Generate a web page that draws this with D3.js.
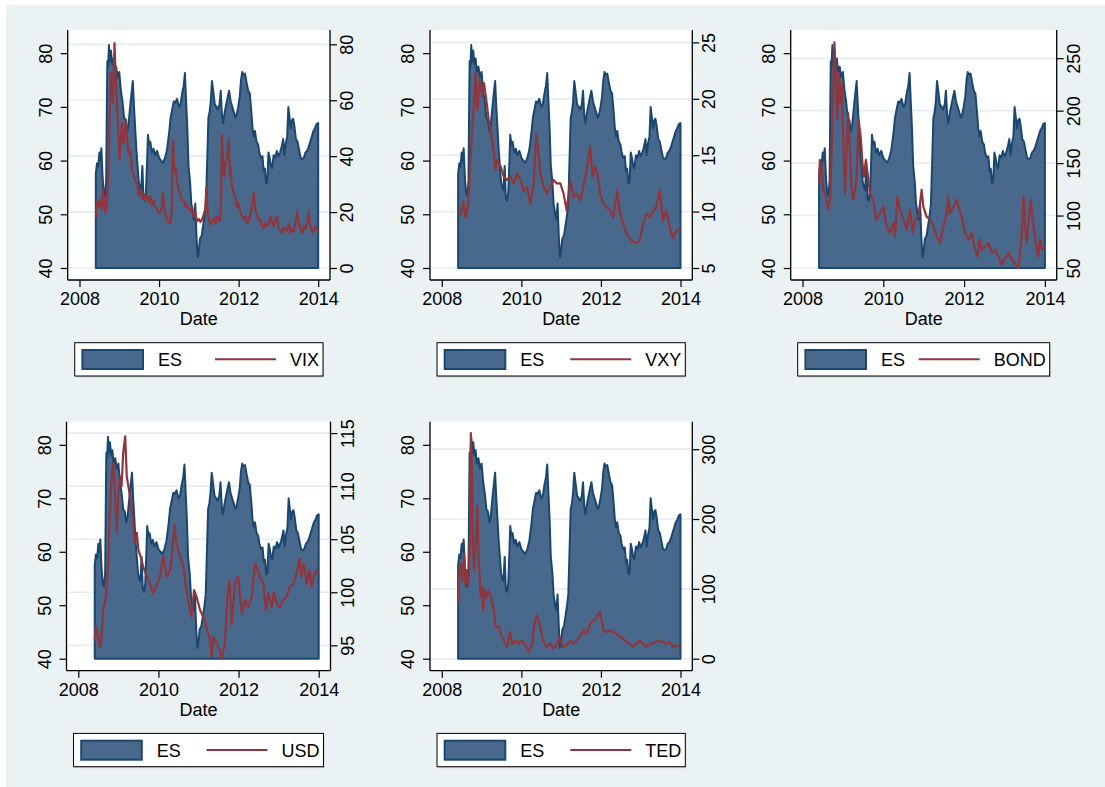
<!DOCTYPE html>
<html>
<head>
<meta charset="utf-8">
<script src="https://cdn.jsdelivr.net/npm/d3@7"></script>
<style>
  body { margin: 0; background: #fff; }
  svg text { font-family: "Liberation Sans", Arial, sans-serif; fill: #000; }
</style>
</head>
<body>
<script>
// ---- data: [decimal year, value] ----
const es = [
  [2008.41,57.5],[2008.44,59.5],[2008.47,58.8],[2008.50,61.5],[2008.52,60.0],[2008.55,62.3],[2008.58,57.0],[2008.61,54.0],
  [2008.64,53.5],[2008.67,56.0],[2008.69,72.0],[2008.70,78.5],[2008.72,77.5],[2008.74,81.5],[2008.76,78.5],[2008.79,80.5],
  [2008.82,78.0],[2008.85,79.0],[2008.88,76.5],[2008.92,77.5],[2008.96,75.5],[2009.00,76.5],[2009.04,73.0],[2009.08,71.0],
  [2009.12,68.0],[2009.16,67.5],[2009.20,65.5],[2009.23,66.5],[2009.26,69.0],[2009.30,72.0],[2009.34,74.8],[2009.37,70.0],
  [2009.40,66.0],[2009.43,62.0],[2009.46,59.0],[2009.49,56.0],[2009.52,55.0],[2009.55,54.5],[2009.58,59.0],[2009.61,53.0],
  [2009.64,52.5],[2009.67,54.0],[2009.70,60.0],[2009.72,64.8],[2009.75,63.0],[2009.78,63.5],[2009.82,61.5],[2009.86,62.2],
  [2009.90,61.0],[2009.95,61.8],[2010.00,60.5],[2010.05,60.0],[2010.10,59.6],[2010.15,60.5],[2010.20,62.0],[2010.25,65.0],
  [2010.29,68.0],[2010.33,69.5],[2010.37,71.0],[2010.41,70.8],[2010.45,71.5],[2010.50,70.0],[2010.54,70.5],[2010.58,72.5],
  [2010.62,74.0],[2010.65,76.3],[2010.68,71.0],[2010.71,66.0],[2010.74,59.0],[2010.78,56.0],[2010.81,52.0],[2010.85,50.0],
  [2010.88,49.0],[2010.91,52.0],[2010.94,46.0],[2010.97,42.0],[2010.99,42.5],[2011.03,45.5],[2011.07,46.0],[2011.11,48.0],
  [2011.15,50.0],[2011.18,52.0],[2011.21,60.0],[2011.24,68.0],[2011.27,69.0],[2011.30,71.0],[2011.33,74.8],[2011.36,73.0],
  [2011.40,70.5],[2011.44,70.0],[2011.48,69.5],[2011.52,70.5],[2011.55,73.0],[2011.58,68.5],[2011.61,67.0],[2011.65,69.0],
  [2011.69,70.5],[2011.73,72.0],[2011.76,73.0],[2011.80,71.0],[2011.84,70.0],[2011.88,69.0],[2011.92,68.0],[2011.95,68.5],
  [2011.99,70.0],[2012.03,72.0],[2012.06,75.0],[2012.09,76.5],[2012.12,76.0],[2012.16,76.2],[2012.20,74.5],[2012.24,73.0],
  [2012.28,72.5],[2012.32,69.0],[2012.35,66.0],[2012.38,64.5],[2012.41,65.5],[2012.45,63.5],[2012.49,63.0],[2012.52,61.5],
  [2012.56,60.5],[2012.60,60.8],[2012.63,58.0],[2012.66,58.5],[2012.69,55.8],[2012.72,56.0],[2012.75,61.5],[2012.78,60.5],
  [2012.81,59.0],[2012.84,58.6],[2012.88,61.0],[2012.92,60.5],[2012.96,61.8],[2013.00,60.8],[2013.04,61.5],[2013.08,62.5],
  [2013.12,64.0],[2013.15,61.0],[2013.18,63.0],[2013.22,64.5],[2013.25,70.0],[2013.28,68.0],[2013.31,66.0],[2013.34,67.5],
  [2013.37,67.8],[2013.40,66.5],[2013.44,64.0],[2013.48,63.5],[2013.52,62.0],[2013.56,60.5],[2013.60,60.3],[2013.64,60.5],
  [2013.68,61.5],[2013.72,61.8],[2013.76,62.5],[2013.80,63.5],[2013.84,64.5],[2013.88,65.5],[2013.92,66.0],[2013.96,66.8],
  [2014.00,67.0]
];

const vix = [
  [2008.41,17.9],[2008.44,23.8],[2008.48,22.0],[2008.52,24.4],[2008.56,21.0],[2008.59,28.0],[2008.62,23.0],[2008.65,19.6],
  [2008.68,22.0],[2008.70,26.8],[2008.73,38.0],[2008.755,53.0],[2008.79,70.0],[2008.81,62.0],[2008.84,59.0],[2008.86,68.0],
  [2008.88,80.4],[2008.90,72.0],[2008.92,65.0],[2008.96,54.0],[2009.01,38.7],[2009.04,45.0],[2009.07,51.8],[2009.11,44.6],
  [2009.14,48.0],[2009.17,53.0],[2009.20,46.0],[2009.23,41.0],[2009.28,42.0],[2009.32,35.0],[2009.36,33.0],[2009.40,31.5],
  [2009.45,30.0],[2009.49,26.0],[2009.53,28.0],[2009.57,25.0],[2009.61,26.5],[2009.65,24.4],[2009.70,26.0],[2009.74,23.5],
  [2009.78,25.6],[2009.82,22.5],[2009.86,24.0],[2009.90,22.0],[2009.95,21.0],[2010.00,19.6],[2010.03,19.6],[2010.07,22.0],
  [2010.10,26.8],[2010.14,20.0],[2010.20,17.3],[2010.24,16.5],[2010.28,16.1],[2010.32,21.0],[2010.34,38.7],[2010.35,45.5],
  [2010.38,34.0],[2010.41,36.0],[2010.45,31.5],[2010.49,28.0],[2010.53,26.8],[2010.57,24.0],[2010.62,24.4],[2010.66,22.0],
  [2010.70,22.6],[2010.74,21.0],[2010.79,20.8],[2010.83,22.0],[2010.87,18.5],[2010.91,20.0],[2010.95,16.7],[2011.00,17.5],
  [2011.04,16.5],[2011.08,17.3],[2011.12,19.0],[2011.16,21.0],[2011.19,29.0],[2011.22,20.0],[2011.26,17.0],[2011.29,15.5],
  [2011.34,16.5],[2011.38,18.0],[2011.42,16.0],[2011.46,18.5],[2011.50,17.5],[2011.54,17.0],[2011.56,25.0],[2011.58,47.6],
  [2011.61,37.0],[2011.64,32.7],[2011.67,38.0],[2011.71,39.9],[2011.75,45.8],[2011.78,33.0],[2011.80,36.0],[2011.83,29.2],
  [2011.87,27.0],[2011.92,25.0],[2011.96,22.0],[2012.00,23.0],[2012.04,20.0],[2012.09,18.5],[2012.14,17.5],[2012.18,18.5],
  [2012.21,16.0],[2012.26,17.0],[2012.30,19.5],[2012.34,22.0],[2012.38,26.8],[2012.42,21.0],[2012.46,19.0],[2012.50,17.3],
  [2012.54,17.5],[2012.58,15.5],[2012.63,14.3],[2012.67,16.0],[2012.71,15.0],[2012.76,16.0],[2012.80,18.5],[2012.84,16.5],
  [2012.88,15.0],[2012.92,17.0],[2012.97,18.5],[2013.01,14.0],[2013.05,13.5],[2013.09,12.5],[2013.14,14.5],[2013.18,13.5],
  [2013.22,13.7],[2013.26,16.0],[2013.30,12.5],[2013.35,14.0],[2013.39,13.0],[2013.43,16.5],[2013.47,20.2],[2013.51,16.0],
  [2013.56,14.0],[2013.60,12.5],[2013.64,15.0],[2013.68,14.0],[2013.72,16.0],[2013.76,20.2],[2013.80,15.0],[2013.85,12.5],
  [2013.89,14.0],[2013.93,15.0],[2013.97,13.5],[2014.00,13.1]
];

const vxy = [
  [2008.41,10.1],[2008.48,9.8],[2008.54,10.9],[2008.60,9.5],[2008.66,10.6],[2008.73,15.2],[2008.81,19.6],[2008.85,22.3],
  [2008.89,19.0],[2008.96,21.7],[2009.02,20.2],[2009.06,21.4],[2009.13,19.6],[2009.18,18.1],[2009.24,16.9],[2009.31,15.2],
  [2009.35,13.7],[2009.39,14.6],[2009.48,14.0],[2009.56,13.1],[2009.64,12.8],[2009.73,13.1],[2009.81,12.5],[2009.89,13.4],
  [2009.98,12.8],[2010.06,11.8],[2010.14,12.2],[2010.23,10.7],[2010.31,12.5],[2010.36,15.8],[2010.38,16.9],[2010.48,13.4],
  [2010.56,12.2],[2010.64,11.6],[2010.73,12.2],[2010.81,12.8],[2010.89,12.5],[2010.98,12.5],[2011.06,11.6],[2011.14,10.1],
  [2011.23,12.8],[2011.31,11.3],[2011.39,11.6],[2011.48,11.0],[2011.56,12.2],[2011.64,13.7],[2011.73,15.8],[2011.79,13.1],
  [2011.85,14.0],[2011.91,13.4],[2011.98,11.6],[2012.06,10.7],[2012.14,10.4],[2012.23,10.1],[2012.31,9.5],[2012.41,11.9],
  [2012.48,9.8],[2012.56,8.9],[2012.64,8.1],[2012.73,7.6],[2012.81,7.3],[2012.89,7.2],[2012.98,7.5],[2013.06,8.9],
  [2013.14,9.8],[2013.23,9.5],[2013.31,10.0],[2013.39,10.4],[2013.48,11.9],[2013.56,9.2],[2013.64,10.1],[2013.73,8.6],
  [2013.81,7.6],[2013.89,8.3],[2014.00,8.5]
];

const bond = [
  [2008.41,131],[2008.43,153],[2008.47,147],[2008.51,124.6],[2008.58,118],[2008.64,105.6],[2008.68,115],[2008.72,159.5],
  [2008.76,223],[2008.79,265],[2008.83,229],[2008.86,191],[2008.90,235.7],[2008.94,207],[2008.97,226],[2009.01,175],
  [2009.05,121],[2009.09,159.5],[2009.13,197.6],[2009.17,166],[2009.21,127.8],[2009.26,115],[2009.30,124.6],[2009.34,137],
  [2009.39,191],[2009.44,175],[2009.49,147],[2009.52,137],[2009.57,153],[2009.63,134],[2009.67,121],[2009.75,115],
  [2009.83,96],[2009.92,102],[2010.00,108.7],[2010.08,89.7],[2010.17,83.3],[2010.25,92.9],[2010.29,80],[2010.35,118],
  [2010.41,105.6],[2010.50,96],[2010.58,86.5],[2010.66,105.6],[2010.73,83.3],[2010.79,96],[2010.87,99],[2010.95,124.6],
  [2010.99,108.7],[2011.07,99],[2011.16,96],[2011.24,89.7],[2011.32,80],[2011.40,73.8],[2011.49,89.7],[2011.57,102],
  [2011.61,118],[2011.65,102],[2011.74,108.7],[2011.82,115],[2011.86,108.7],[2011.94,99],[2012.02,83.3],[2012.11,77],
  [2012.19,83.3],[2012.27,67.5],[2012.33,61],[2012.38,77],[2012.44,67.5],[2012.52,70.6],[2012.60,73.8],[2012.69,64.3],
  [2012.77,67.5],[2012.85,61],[2012.93,53.2],[2013.02,59.5],[2013.10,64.3],[2013.18,58],[2013.26,54.8],[2013.35,50],
  [2013.39,67.5],[2013.43,83.3],[2013.47,118],[2013.51,89.7],[2013.55,73.8],[2013.60,96],[2013.65,115],[2013.70,96],
  [2013.76,77],[2013.83,61],[2013.88,77],[2013.93,67.5],[2014.00,70.6]
];

const usd = [
  [2008.41,95.5],[2008.44,96.7],[2008.50,95.8],[2008.54,94.8],[2008.58,95.8],[2008.62,98.3],[2008.69,99.6],[2008.75,103.0],
  [2008.79,107.8],[2008.83,110.9],[2008.87,112.2],[2008.92,109.0],[2008.96,105.6],[2009.00,109.3],[2009.04,110.9],[2009.08,110.0],
  [2009.12,113.1],[2009.17,114.7],[2009.21,110.9],[2009.25,110.0],[2009.29,109.0],[2009.33,107.8],[2009.37,106.5],[2009.41,104.6],
  [2009.46,105.6],[2009.50,104.0],[2009.56,103.3],[2009.62,102.4],[2009.71,101.5],[2009.79,100.8],[2009.87,99.9],[2009.96,100.8],
  [2010.04,101.5],[2010.12,103.3],[2010.21,101.5],[2010.29,102.1],[2010.33,103.3],[2010.40,106.3],[2010.45,104.6],[2010.54,103.3],
  [2010.62,102.4],[2010.70,100.2],[2010.79,98.3],[2010.83,97.7],[2010.89,100.2],[2010.95,99.6],[2011.04,98.3],[2011.12,97.7],
  [2011.20,96.7],[2011.29,95.5],[2011.33,93.9],[2011.37,95.8],[2011.45,95.2],[2011.54,94.5],[2011.58,93.7],[2011.66,95.2],
  [2011.72,99.6],[2011.77,101.1],[2011.83,97.0],[2011.91,100.8],[2011.99,101.5],[2012.08,98.0],[2012.16,99.3],[2012.24,98.6],
  [2012.33,99.6],[2012.41,102.7],[2012.45,102.4],[2012.53,101.5],[2012.62,100.8],[2012.68,98.3],[2012.74,99.9],[2012.83,98.6],
  [2012.88,100.0],[2012.95,99.0],[2013.03,98.6],[2013.12,99.3],[2013.20,99.6],[2013.28,100.5],[2013.37,100.8],[2013.45,101.8],
  [2013.52,103.2],[2013.57,101.5],[2013.63,102.7],[2013.70,100.8],[2013.77,102.1],[2013.82,100.5],[2013.88,101.5],[2013.95,102.1],
  [2014.00,101.8]
];

const ted = [
  [2008.41,79],[2008.43,117],[2008.48,136],[2008.52,112],[2008.56,151],[2008.60,103],[2008.63,127],[2008.66,108],
  [2008.68,132],[2008.71,175],[2008.73,323],[2008.76,261],[2008.78,165],[2008.81,127],[2008.85,165],[2008.89,218],
  [2008.92,155],[2008.95,117],[2008.98,88.5],[2009.02,103],[2009.04,69],[2009.08,98],[2009.13,88.5],[2009.18,98],
  [2009.24,88.5],[2009.31,69],[2009.35,45.5],[2009.43,45.5],[2009.48,35.9],[2009.56,26.3],[2009.64,16.7],[2009.71,38.3],
  [2009.77,21.5],[2009.85,26.3],[2009.93,21.5],[2010.02,26.3],[2010.10,19.1],[2010.18,9.6],[2010.27,21.5],[2010.33,50.2],
  [2010.39,62.2],[2010.46,50.2],[2010.54,26.3],[2010.63,16.7],[2010.73,21.5],[2010.81,14.4],[2010.89,19.1],[2010.96,31.1],
  [2011.04,16.7],[2011.14,19.1],[2011.23,26.3],[2011.31,21.5],[2011.39,26.3],[2011.48,31.1],[2011.56,40.7],[2011.64,35.9],
  [2011.73,50.2],[2011.81,55],[2011.89,59.8],[2011.98,67],[2012.06,40.7],[2012.14,38.3],[2012.23,40.7],[2012.31,38.3],
  [2012.39,35.9],[2012.48,31.1],[2012.56,28.7],[2012.64,23.9],[2012.73,21.5],[2012.81,16.7],[2012.89,21.5],[2012.98,26.3],
  [2013.06,21.5],[2013.14,16.7],[2013.23,21.5],[2013.31,21.5],[2013.43,26.3],[2013.56,23.9],[2013.64,21.5],[2013.73,23.9],
  [2013.81,16.7],[2013.89,19.1],[2014.00,19.1]
];

// ---- ticks and labels ----
const xTicks = [2008, 2010, 2012, 2014];
const esTicks = [40, 50, 60, 70, 80];
const esRange = [40, 81.8];
const seriesNames = ["VIX", "VXY", "BOND", "USD", "TED"];
const rightTicks = [
  [0, 20, 40, 60, 80],
  [5, 10, 15, 20, 25],
  [50, 100, 150, 200, 250],
  [95, 100, 105, 110, 115],
  [0, 100, 200, 300]
];
const rightRanges = [[0, 80.3], [5, 24.9], [50, 264], [93.74, 114.8], [0, 320]];
const seriesData = [vix, vxy, bond, usd, ted];

// ---- layout (plot region boxes: left, top, right, bottom) ----
const boxes = [
  [67.7, 30, 330, 280],
  [430, 30, 692.3, 280],
  [790.7, 30, 1056.7, 280],
  [66.5, 421.7, 330.5, 670.7],
  [430, 421.7, 692.3, 670.7]
];

const W = 1105, H = 787;
const navy = "#1a476f", fillBlue = "#48698b", maroon = "#90353b";

const svg = d3.select("body").append("svg")
  .attr("width", W)
  .attr("height", H);

svg.append("rect")
  .attr("x", 6).attr("y", 5)
  .attr("width", W - 6).attr("height", H - 5)
  .attr("fill", "#eaf2f3");

function drawPanel(i) {
  const b = boxes[i];
  const w = b[2] - b[0], h = b[3] - b[1];
  const g = svg.append("g").attr("transform", "translate(" + b[0] + "," + b[1] + ")");

  g.append("rect").attr("width", w).attr("height", h).attr("fill", "#fff");

  const x = d3.scaleLinear().domain([2008, 2014]).range([11.8, w - 11.8]);
  const yL = d3.scaleLinear().domain(esRange).range([h - 12, 13.5]);
  const yR = d3.scaleLinear().domain(rightRanges[i]).range([h - 12, 13.5]);

  // gridlines follow the right axis
  g.append("g").selectAll("line")
    .data(rightTicks[i]).enter()
    .append("line")
    .attr("x1", 0).attr("x2", w)
    .attr("y1", d => yR(d)).attr("y2", d => yR(d))
    .attr("stroke", "#e4edf0")
    .attr("stroke-width", 1.6);

  // ES area
  const area = d3.area()
    .x(d => x(d[0]))
    .y0(yL(40))
    .y1(d => yL(d[1]));
  g.append("path").datum(es)
    .attr("d", area)
    .attr("fill", fillBlue)
    .attr("stroke", navy)
    .attr("stroke-width", 2)
    .attr("stroke-linejoin", "round");

  // right series
  const line = d3.line()
    .x(d => x(d[0]))
    .y(d => yR(d[1]));
  g.append("path").datum(seriesData[i])
    .attr("d", line)
    .attr("fill", "none")
    .attr("stroke", maroon)
    .attr("stroke-width", 2.2)
    .attr("stroke-linejoin", "round");

  // axes
  const axL = g.append("g")
    .call(d3.axisLeft(yL).tickValues(esTicks).tickSize(7).tickSizeOuter(0).tickFormat(d3.format("d")));
  const axR = g.append("g").attr("transform", "translate(" + w + ",0)")
    .call(d3.axisRight(yR).tickValues(rightTicks[i]).tickSize(7).tickSizeOuter(0).tickFormat(d3.format("d")));
  const axB = g.append("g").attr("transform", "translate(0," + h + ")")
    .call(d3.axisBottom(x).tickValues(xTicks).tickSize(7).tickSizeOuter(0).tickFormat(d3.format("d")));

  [axL, axR, axB].forEach(a => {
    a.select(".domain").remove();
    a.selectAll("line").attr("stroke", "#000").attr("stroke-width", 1.2);
    a.selectAll("text").attr("font-size", 18).attr("font-family", null).attr("fill", "#000");
  });
  axL.selectAll("text")
    .attr("transform", "rotate(-90)")
    .attr("x", 0).attr("y", -16).attr("dy", null)
    .attr("text-anchor", "middle");
  axR.selectAll("text")
    .attr("transform", "rotate(-90)")
    .attr("x", 0).attr("y", 23).attr("dy", null)
    .attr("text-anchor", "middle");
  axB.selectAll("text").attr("y", 25).attr("dy", null);

  // axis lines span the whole plot region
  g.append("line").attr("x1", 0).attr("x2", 0).attr("y1", 0).attr("y2", h)
    .attr("stroke", "#000").attr("stroke-width", 1.3);
  g.append("line").attr("x1", w).attr("x2", w).attr("y1", 0).attr("y2", h)
    .attr("stroke", "#000").attr("stroke-width", 1.3);
  g.append("line").attr("x1", 0).attr("x2", w).attr("y1", h).attr("y2", h)
    .attr("stroke", "#000").attr("stroke-width", 1.3);

  g.append("text")
    .attr("x", w / 2).attr("y", h + 45)
    .attr("text-anchor", "middle")
    .attr("font-size", 18)
    .text("Date");

  // legend
  const lw = w - 14, lx = (w - lw) / 2, ly = h + 62.7;
  const lg = g.append("g").attr("transform", "translate(" + lx + "," + ly + ")");
  lg.append("rect").attr("x", 1).attr("y", 1.5).attr("width", lw).attr("height", 33.3)
    .attr("fill", "#c9cfd2");
  lg.append("rect").attr("width", lw).attr("height", 33.3)
    .attr("fill", "#fff").attr("stroke", "#000").attr("stroke-width", 1);
  lg.append("rect").attr("x", 7.7).attr("y", 7.3).attr("width", 60.6).attr("height", 19)
    .attr("fill", fillBlue).attr("stroke", navy).attr("stroke-width", 2);
  lg.append("text").attr("x", 83.3).attr("y", 23.3).attr("font-size", 18).text("ES");
  const label = lg.append("text")
    .attr("x", lw - 4).attr("y", 23.3)
    .attr("text-anchor", "end")
    .attr("font-size", 18)
    .text(seriesNames[i]);
  const labelStart = lw - 4 - label.node().getComputedTextLength();
  lg.append("line").attr("x1", labelStart - 75).attr("x2", labelStart - 14)
    .attr("y1", 16.6).attr("y2", 16.6)
    .attr("stroke", maroon).attr("stroke-width", 2);
}

for (let i = 0; i < boxes.length; i++) drawPanel(i);
</script>
</body>
</html>
